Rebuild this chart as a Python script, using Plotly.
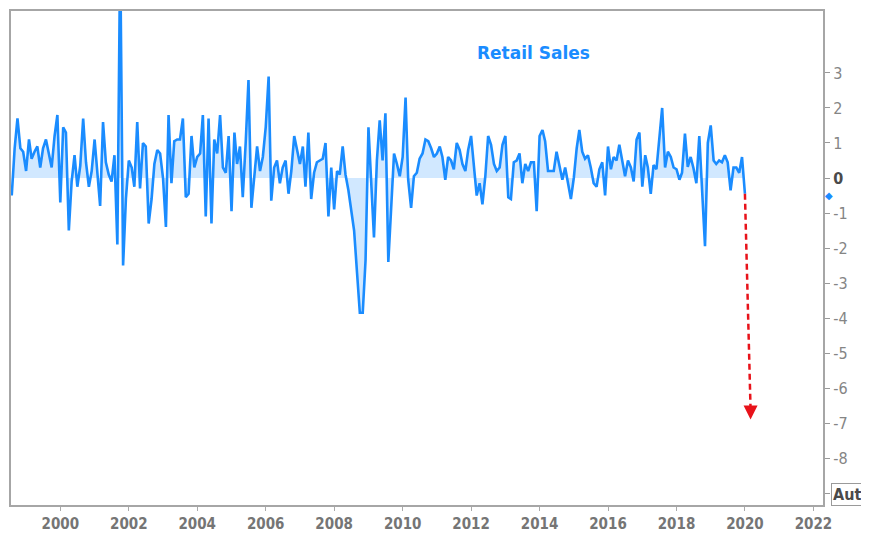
import pandas as pd
import plotly.graph_objects as go

# ---------------- data (monthly % change) ----------------
start_month = "1998-08-01"
sales_1998 = [-0.5, 0.85, 1.7, 0.85, 0.75]
sales_1999 = [0.2, 1.1, 0.55, 0.75, 0.9, 0.3, 0.85, 1.1, 0.65, 0.3, 1.2, 1.8]
sales_2000 = [-0.7, 1.45, 1.3, -1.5, -0.1, 0.65, -0.25, 0.35, 1.7, 0.45, -0.25, 0.2]
sales_2001 = [1.1, 0.2, -0.8, 1.6, 0.45, 0.1, -0.1, 0.65, -1.9, 6.5, -2.5, -0.6]
sales_2002 = [0.5, 0.3, -0.25, 1.6, -0.3, 1.0, 0.9, -1.3, -0.6, 0.4, 0.8, 0.7]
sales_2003 = [0.0, -1.4, 1.8, -0.15, 1.05, 1.1, 1.1, 1.7, -0.55, -0.45, 1.2, 0.3]
sales_2004 = [0.6, 0.7, 1.8, -1.1, 1.7, -1.3, 1.1, 0.7, 1.8, 0.3, 0.15, 1.2]
sales_2005 = [-0.95, 1.3, 0.4, 0.9, -0.55, 1.0, 2.8, -0.85, 0.1, 0.9, 0.2, 0.6]
sales_2006 = [1.45, 2.9, -0.65, 0.3, 0.5, -0.15, 0.3, 0.5, -0.45, 0.2, 1.2, 0.8]
sales_2007 = [0.4, 0.9, -0.25, 1.3, -0.6, 0.15, 0.45, 0.5, 0.55, 1.0, -1.1, 0.3]
sales_2008 = [-0.9, 0.2, 0.1, 0.9, 0.1, -0.35, -0.9, -1.5, -2.7, -3.85, -3.85, -2.35]
sales_2009 = [1.45, -0.45, -1.7, 0.5, 1.65, 0.5, 1.85, -2.4, -0.7, 0.7, 0.4, 0.05]
sales_2010 = [0.6, 2.3, -0.05, -0.85, 0.05, 0.15, 0.55, 0.7, 1.1, 1.05, 0.85, 0.6]
sales_2011 = [0.7, 0.9, 0.6, -0.05, 0.6, 0.5, 0.25, 1.0, 0.8, 0.4, 0.2, 0.8]
sales_2012 = [1.2, 0.4, -0.5, -0.15, -0.75, 0.05, 1.2, 0.95, 0.4, 0.2, 0.3, 0.95]
sales_2013 = [1.2, -0.55, -0.6, 0.45, 0.5, 0.7, -0.15, 0.4, 0.2, 0.45, 0.45, -0.95]
sales_2014 = [1.2, 1.37, 1.05, 0.2, 0.2, 0.2, 0.75, 0.3, -0.05, 0.3, -0.15, -0.6]
sales_2015 = [0.0, 0.85, 1.37, 0.75, 0.55, 0.65, 0.3, -0.15, -0.25, 0.25, 0.45, -0.5]
sales_2016 = [0.9, 0.25, 0.6, 0.5, 0.95, 0.45, 0.05, 0.5, 0.3, -0.1, 1.1, 1.3]
sales_2017 = [-0.25, 0.65, 0.3, -0.45, 0.37, 0.25, 1.13, 2.0, 0.3, 0.75, 0.6, 0.3]
sales_2018 = [0.25, -0.05, 0.15, 1.27, 0.32, 0.6, 0.28, -0.15, 1.2, -0.55, -1.95, 1.0]
sales_2019 = [1.5, 0.5, 0.4, 0.5, 0.45, 0.65, 0.45, -0.35, 0.3, 0.3, 0.15, 0.6]
sales_2020 = [-0.45]

retail_sales = (sales_1998 + sales_1999 + sales_2000 + sales_2001 + sales_2002
                + sales_2003 + sales_2004 + sales_2005 + sales_2006 + sales_2007
                + sales_2008 + sales_2009 + sales_2010 + sales_2011 + sales_2012
                + sales_2013 + sales_2014 + sales_2015 + sales_2016 + sales_2017
                + sales_2018 + sales_2019 + sales_2020)
dates = pd.date_range(start_month, periods=len(retail_sales), freq="MS")

forecast_date = "2020-03-01"
forecast_value = -6.9
latest_marker_value = -0.5

x_tick_years = list(range(2000, 2023, 2))
y_tick_values = [3, 2, 1, 0, -1, -2, -3, -4, -5, -6, -7, -8, -9]
y_tick_labels = ["3", "2", "1", "<b><span style='color:#4a4a4a'>0</span></b>", "-1", "-2",
                 "-3", "-4", "-5", "-6", "-7", "-8", ""]

title_text = "Retail Sales"
box_text = "Aut"

BLUE = "#1a8cff"
RED = "#e8121a"
GRAY = "#858585"
FONT = "DejaVu Sans Condensed, DejaVu Sans, sans-serif"

fig = go.Figure()

fig.add_trace(go.Scatter(
    x=dates, y=retail_sales, mode="lines",
    line=dict(color=BLUE, width=2.6),
    fill="tozeroy", fillcolor="rgba(26,140,255,0.2)",
    hoverinfo="skip", showlegend=False,
))

# dashed forecast arrow
fig.add_trace(go.Scatter(
    x=[dates[-1], forecast_date], y=[retail_sales[-1], forecast_value + 0.3],
    mode="lines", line=dict(color=RED, width=2.5, dash="6px,4px"),
    hoverinfo="skip", showlegend=False,
))
fig.add_trace(go.Scatter(
    x=[forecast_date], y=[forecast_value], mode="markers",
    marker=dict(symbol="arrow-down", size=14, color=RED, line=dict(width=0)),
    hoverinfo="skip", showlegend=False,
))

fig.update_layout(
    width=869, height=533, autosize=False,
    margin=dict(l=1, r=54, t=3, b=36),
    paper_bgcolor="white", plot_bgcolor="white",
    showlegend=False, hovermode=False,
    xaxis=dict(
        type="date",
        range=["1998-07-24", "2022-04-13"],
        tickvals=[f"{y}-01-01" for y in x_tick_years],
        ticktext=[f"<b>{y}</b>" for y in x_tick_years],
        ticks="outside", ticklen=4, tickwidth=1, tickcolor="#aaaaaa",
        tickfont=dict(family=FONT, size=15, color="#757575"),
        showgrid=False, zeroline=False,
        showline=True, linecolor="#a6a6a6", linewidth=2, mirror=True,
    ),
    yaxis=dict(
        side="right",
        range=[-9.34, 4.77],
        tickvals=y_tick_values, ticktext=y_tick_labels,
        ticks="outside", ticklen=5, tickwidth=1, tickcolor="#999999",
        tickfont=dict(family=FONT, size=16, color=GRAY),
        showgrid=False, zeroline=False,
        showline=True, linecolor="#a6a6a6", linewidth=2, mirror=True,
    ),
    annotations=[
        dict(text=f"<b>{title_text}</b>", xref="paper", yref="paper",
             x=0.644, y=0.915, xanchor="center", yanchor="middle", showarrow=False,
             font=dict(family="DejaVu Sans, sans-serif", size=17, color=BLUE)),
        dict(text="\u25c6", xref="paper", yref="y",
             x=1.0074, y=latest_marker_value, xanchor="center", yanchor="middle",
             showarrow=False, font=dict(family="DejaVu Sans, sans-serif", size=10, color=BLUE)),
        dict(text=f"<b>{box_text}</b>&nbsp;&nbsp;", xref="paper", yref="paper",
             x=1.0098, y=0.022, xanchor="left", yanchor="middle", showarrow=False,
             font=dict(family=FONT, size=16, color="#4a4a4a"),
             bordercolor="#9a9a9a", borderwidth=1, borderpad=1, bgcolor="white"),
    ],
)

fig.write_html("out.html", config={"displayModeBar": False})
